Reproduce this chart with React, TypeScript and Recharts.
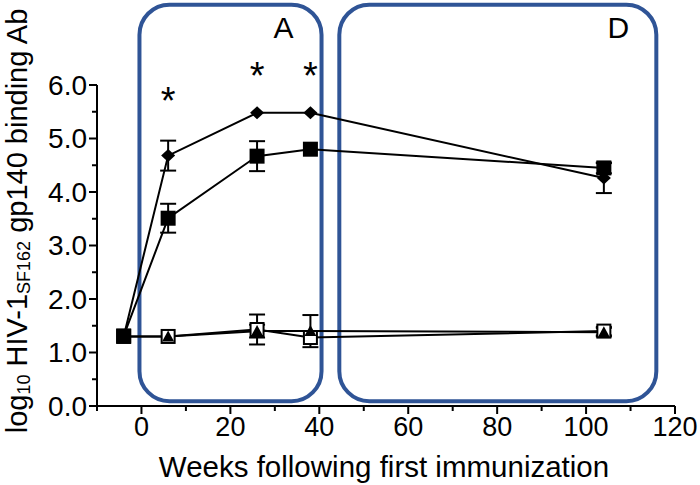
import { ComposedChart, Line, XAxis, YAxis, ErrorBar, ReferenceArea, ReferenceDot } from "recharts";

const FONT = "'Liberation Sans', Arial, sans-serif";
const BLUE = "#2F5496";

const weeks = [-4, 6, 26, 38, 104];
const diamondVals = [1.3, 4.68, 5.48, 5.48, 4.26];
const diamondErr = [null, 0.28, null, null, 0.28];
const filledSqVals = [1.31, 3.51, 4.67, 4.8, 4.45];
const filledSqErr = [null, 0.27, 0.28, null, 0.1];
const openSqVals = [1.3, 1.3, 1.43, 1.28, 1.4];
const openSqErr = [null, null, 0.28, null, 0.08];
const triangleVals = [1.3, 1.3, 1.4, 1.4, 1.38];
const triangleErr = [null, null, 0.12, 0.3, 0.08];

const xTicks = [-10, 0, 10, 20, 30, 40, 50, 60, 70, 80, 90, 100, 110, 120];
const yTicks = [0, 0.5, 1, 1.5, 2, 2.5, 3, 3.5, 4, 4.5, 5, 5.5, 6];

const regions = [
  { name: "A", from: -0.45, to: 40.5 },
  { name: "D", from: 44.5, to: 115.8 },
];
const regionTop = 7.5;
const regionBottom = 0.09;

const stars = [
  { week: 6, y: 5.85 },
  { week: 26, y: 6.32 },
  { week: 38, y: 6.32 },
];

const data = weeks.map((w, i) => ({
  week: w,
  diamond: diamondVals[i],
  diamondErr: diamondErr[i],
  filledSq: filledSqVals[i],
  filledSqErr: filledSqErr[i],
  openSq: openSqVals[i],
  openSqErr: openSqErr[i],
  triangle: triangleVals[i],
  triangleErr: triangleErr[i],
}));

const TICK = 8;
const GAP = 3;

const XTick = (props: any) => {
  const { x, y, payload } = props;
  const v = payload.value;
  const major = v % 20 === 0;
  const axisY = y - TICK - GAP;
  return (
    <g>
      <line x1={x} x2={x} y1={axisY} y2={axisY + (major ? 8 : 5)} stroke="#000" strokeWidth={2} />
      {major && (
        <text x={x} y={axisY + 30} textAnchor="middle" fontSize={27} fontFamily={FONT} fill="#000">
          {v}
        </text>
      )}
    </g>
  );
};

const YTick = (props: any) => {
  const { x, y, payload } = props;
  const v = payload.value;
  const major = Math.abs(v - Math.round(v)) < 1e-6;
  const axisX = x + TICK + GAP;
  return (
    <g>
      <line x1={axisX - (major ? 8 : 5)} x2={axisX} y1={y} y2={y} stroke="#000" strokeWidth={2} />
      {major && (
        <text x={axisX - 10} y={y} textAnchor="end" dominantBaseline="central" fontSize={28} fontFamily={FONT} fill="#000">
          {v.toFixed(1)}
        </text>
      )}
    </g>
  );
};

const diamondDot = (p: any) => {
  const { cx, cy, index } = p;
  return <polygon key={`d${index}`} points={`${cx},${cy - 6.5} ${cx + 7},${cy} ${cx},${cy + 6.5} ${cx - 7},${cy}`} fill="#000" />;
};
const filledSqDot = (p: any) => {
  const { cx, cy, index } = p;
  return <rect key={`s${index}`} x={cx - 7.5} y={cy - 7.5} width={15} height={15} fill="#000" />;
};
const openSqDot = (p: any) => {
  const { cx, cy, index } = p;
  return <rect key={`o${index}`} x={cx - 6.5} y={cy - 6.5} width={13} height={13} fill="#fff" stroke="#000" strokeWidth={2} />;
};
const triangleDot = (p: any) => {
  const { cx, cy, index } = p;
  return <polygon key={`t${index}`} points={`${cx},${cy - 6} ${cx + 6},${cy + 5} ${cx - 6},${cy + 5}`} fill="#000" />;
};

const YTitle = () => (
  <text transform="translate(17,221) rotate(-90)" textAnchor="middle" dominantBaseline="central" fontSize={29} fontFamily={FONT} fill="#000">
    <tspan>log</tspan>
    <tspan fontSize={18} dy={7}>10</tspan>
    <tspan dy={-7}> HIV-1</tspan>
    <tspan fontSize={18} dy={7}>SF162</tspan>
    <tspan dy={-7}> gp140 binding Ab</tspan>
  </text>
);

const XTitle = () => (
  <text x={384} y={477} textAnchor="middle" fontSize={29.5} fontFamily={FONT} fill="#000">
    Weeks following first immunization
  </text>
);

export default function App() {
  return (
    <div style={{ position: "absolute", left: 0, top: 0, background: "#fff" }}>
      <ComposedChart width={700} height={485} data={data} margin={{ top: 85, right: 25, bottom: 0, left: 0 }}>
        <XAxis
          dataKey="week"
          type="number"
          domain={[-10, 120]}
          ticks={xTicks}
          interval={0}
          allowDataOverflow
          height={79}
          stroke="#000"
          strokeWidth={2}
          tickSize={TICK}
          tickMargin={GAP}
          tickLine={false}
          tick={<XTick />}
          label={<XTitle />}
        />
        <YAxis
          type="number"
          domain={[0, 6]}
          ticks={yTicks}
          interval={0}
          allowDataOverflow
          width={97}
          stroke="#000"
          strokeWidth={2}
          tickSize={TICK}
          tickMargin={GAP}
          tickLine={false}
          tick={<YTick />}
          label={<YTitle />}
        />
        <Line dataKey="openSq" stroke="#000" strokeWidth={2} dot={openSqDot} activeDot={false} isAnimationActive={false}>
          <ErrorBar dataKey="openSqErr" width={8} strokeWidth={2} stroke="#000" direction="y" />
        </Line>
        <Line dataKey="triangle" stroke="#000" strokeWidth={2} dot={triangleDot} activeDot={false} isAnimationActive={false}>
          <ErrorBar dataKey="triangleErr" width={8} strokeWidth={2} stroke="#000" direction="y" />
        </Line>
        <Line dataKey="filledSq" stroke="#000" strokeWidth={2} dot={filledSqDot} activeDot={false} isAnimationActive={false}>
          <ErrorBar dataKey="filledSqErr" width={8} strokeWidth={2} stroke="#000" direction="y" />
        </Line>
        <Line dataKey="diamond" stroke="#000" strokeWidth={2} dot={diamondDot} activeDot={false} isAnimationActive={false}>
          <ErrorBar dataKey="diamondErr" width={8} strokeWidth={2} stroke="#000" direction="y" />
        </Line>
        {regions.map((r) => (
          <ReferenceArea
            key={r.name}
            x1={r.from}
            x2={r.to}
            y1={regionBottom}
            y2={regionTop}
            ifOverflow="visible"
            shape={(p: any) => (
              <g>
                <rect x={p.x} y={p.y} width={p.width} height={p.height} rx={30} ry={30} fill="none" stroke={BLUE} strokeWidth={4} />
                <text x={p.x + p.width - 38} y={p.y + 33} textAnchor="middle" fontSize={30} fontFamily={FONT} fill="#000">
                  {r.name}
                </text>
              </g>
            )}
          />
        ))}
        {stars.map((s, i) => (
          <ReferenceDot
            key={i}
            x={s.week}
            y={s.y}
            r={0}
            ifOverflow="visible"
            shape={(p: any) => (
              <text x={p.cx} y={p.cy + 21} textAnchor="middle" fontSize={38} fontFamily={FONT} fill="#000">
                *
              </text>
            )}
          />
        ))}
      </ComposedChart>
    </div>
  );
}
